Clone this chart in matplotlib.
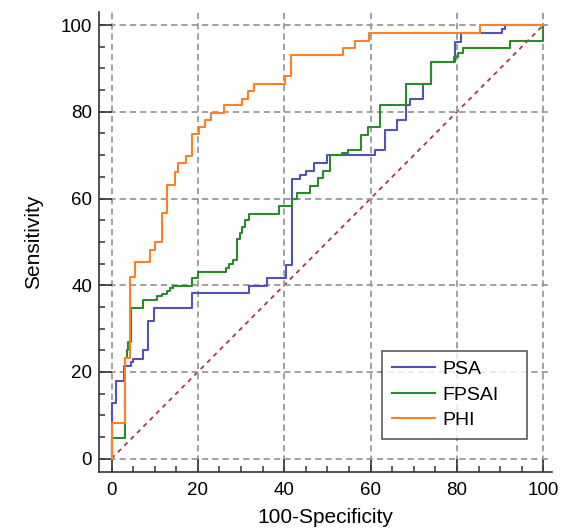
import matplotlib
matplotlib.use("Agg")
import matplotlib.pyplot as plt
from matplotlib.ticker import MultipleLocator

# ROC points (100-specificity, sensitivity)
psa_x = [0, 0, 1.1, 2.9, 4.4, 5.0, 7.3, 8.5, 9.8, 18.6, 31.8, 36.1, 40.3, 41.7, 43.6, 45.0, 46.8,
         50.0, 61.0, 63.3, 66.2, 68.3, 69.1, 72.2, 73.9, 79.5, 80.9, 90.5, 91.2, 100]
psa_y = [0, 12.9, 17.9, 21.3, 22.3, 23.0, 25.0, 31.7, 34.7, 38.2, 39.7, 41.6, 44.6, 64.5, 65.4, 66.4, 68.1,
         70.0, 71.3, 75.8, 78.1, 81.6, 83.0, 86.4, 91.6, 96.2, 98.1, 99.0, 100, 100]

fpsai_x = [0, 0, 3.1, 3.5, 3.9, 4.4, 7.2, 10.5, 11.8, 12.8, 13.6, 14.3, 18.6, 20.0, 26.5, 27.3, 28.2,
           29.1, 29.7, 30.3, 30.9, 31.8, 38.8, 41.7, 43.0, 45.9, 47.9, 49.0, 50.7, 53.3, 54.8, 57.7,
           59.4, 62.2, 68.2, 73.9, 79.2, 80.3, 81.5, 92.2, 100, 100]
fpsai_y = [0, 4.8, 23.3, 25.0, 27.0, 34.8, 36.6, 37.4, 38.0, 38.7, 39.3, 39.8, 41.6, 43.1, 44.0, 44.8, 45.7,
           50.6, 52.0, 53.5, 55.0, 56.4, 58.2, 59.9, 61.3, 62.9, 64.7, 66.4, 70.0, 70.5, 71.2, 74.7,
           76.6, 81.6, 86.4, 91.6, 92.6, 93.6, 94.7, 96.4, 100, 100]

phi_x = [0, 0, 3.1, 4.3, 5.4, 8.9, 10.1, 11.8, 12.9, 14.7, 15.5, 17.2, 18.7, 20.3, 21.6, 23.0, 26.0,
         30.2, 31.7, 33.1, 40.2, 41.5, 53.5, 56.4, 59.7, 85.3, 100]
phi_y = [0, 8.2, 23.1, 41.9, 45.4, 48.1, 50.0, 56.6, 63.1, 66.2, 68.1, 69.9, 74.9, 76.4, 78.1, 79.8, 81.6,
         82.9, 84.8, 86.5, 88.3, 93.0, 94.7, 96.4, 98.1, 100, 100]

series = ["PSA", "FPSAI", "PHI"]
colors = ["#5252b8", "#2b8a2b", "#ff7f27"]

plt.rcParams['font.family'] = ['Liberation Sans', 'DejaVu Sans']

fig = plt.figure(figsize=(5.68, 5.32), dpi=100)
ax = fig.add_axes([0.1743, 0.1128, 0.7975, 0.8652])

# chance line
ax.plot([0, 100], [0, 100], color="#a83a3a", lw=1.3, ls=(0, (2.5, 2.5)), zorder=1)

for name, xs, ys, c, z in zip(series, [psa_x, fpsai_x, phi_x], [psa_y, fpsai_y, phi_y], colors, [2, 3, 4]):
    ax.plot(xs, ys, drawstyle="steps-post", color=c, lw=1.5, label=name, zorder=z)

ax.set_xlim(-2.9, 102)
ax.set_ylim(-3.1, 103.1)
ax.xaxis.set_major_locator(MultipleLocator(20))
ax.yaxis.set_major_locator(MultipleLocator(20))
ax.xaxis.set_minor_locator(MultipleLocator(5))
ax.yaxis.set_minor_locator(MultipleLocator(5))
ax.grid(True, which="major", color="#9a9a9a", lw=1.3, ls=(0, (3.5, 2.2)), zorder=0)

for s in ["top", "right"]:
    ax.spines[s].set_visible(False)
for s in ["left", "bottom"]:
    ax.spines[s].set_linewidth(1.2)
    ax.spines[s].set_color("#333333")

ax.tick_params(which="major", direction="in", length=9.2, width=1.2, color="#333333", labelsize=13.5)
ax.tick_params(which="minor", direction="in", length=4.6, width=1.1, color="#333333")
ax.tick_params(axis="x", which="major", pad=7)
ax.tick_params(axis="y", which="major", pad=5)

ax.set_xlabel("100-Specificity", fontsize=15, labelpad=7)
ax.set_ylabel("Sensitivity", fontsize=15, labelpad=13)

leg = ax.legend(loc="upper left", bbox_to_anchor=(0.625, 0.263, 0.32, 0.0), mode="expand",
                borderaxespad=0, fontsize=14, frameon=True, fancybox=False, handlelength=2.2,
                handletextpad=0.4, labelspacing=0.4, borderpad=0.5)
leg.get_frame().set_edgecolor("#333333")
leg.get_frame().set_linewidth(1.2)

fig.savefig("out.png", dpi=100)
